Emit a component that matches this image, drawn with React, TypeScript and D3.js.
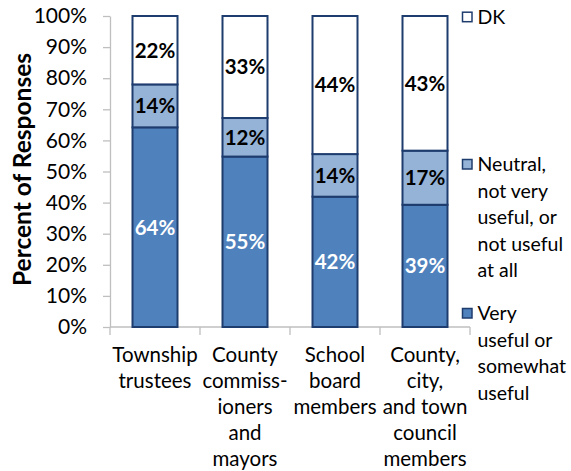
import React, { useEffect, useRef } from "react";
import * as d3 from "d3";

const categories = ["Township trustees", "County commissioners and mayors", "School board members", "County, city, and town council members"];
const categoryLines = [
  ["Township", "trustees"],
  ["County", "commiss-", "ioners", "and", "mayors"],
  ["School", "board", "members"],
  ["County,", "city,", "and town", "council", "members"],
];
const seriesKeys = ["very", "neutral", "dk"];
const seriesNames = ["Very useful or somewhat useful", "Neutral, not very useful, or not useful at all", "DK"];
const legendLines = [
  ["DK"],
  ["Neutral,", "not very", "useful, or", "not useful", "at all"],
  ["Very", "useful or", "somewhat", "useful"],
];
const veryUseful = [64.2, 54.8, 41.9, 39.3];
const neutral = [13.8, 12.4, 13.7, 17.4];
const dk = [22.0, 32.8, 44.4, 43.3];
const yTicks = [0, 10, 20, 30, 40, 50, 60, 70, 80, 90, 100];

const W = 571;
const H = 471;
const FONT = "Lato, 'Open Sans', sans-serif";
const fills = ["#4f81bd", "#95b3d7", "#ffffff"];
const labelColors = ["#ffffff", "#000000", "#000000"];
const stroke = "#1f3c6e";
const axisColor = "#bfbfbf";

export default function App() {
  const ref = useRef<SVGSVGElement | null>(null);

  useEffect(() => {
    const svg = d3.select(ref.current);
    svg.selectAll("*").remove();

    const left = 110, right = 470, top = 16, bottom = 327;
    const x = d3.scaleBand<string>().domain(categories).range([left, right]).paddingInner(0.5).paddingOuter(0.25);
    const y = d3.scaleLinear().domain([0, 100]).range([bottom, top]);

    const rows = categories.map((c, i) => ({ cat: c, very: veryUseful[i], neutral: neutral[i], dk: dk[i] }));
    const stacked = d3.stack<any>().keys(seriesKeys)(rows);

    // Y axis
    const yAxis = d3.axisLeft(y).tickValues(yTicks).tickFormat((d: any) => `${d}%`).tickSizeInner(7).tickSizeOuter(0).tickPadding(16);
    const yg = svg.append("g").attr("transform", `translate(${left},0)`).call(yAxis as any);
    yg.select(".domain").attr("stroke", axisColor).attr("stroke-width", 1.3);
    yg.selectAll(".tick line").attr("stroke", axisColor).attr("stroke-width", 1.3);
    yg.selectAll(".tick text").attr("font-family", FONT).attr("font-size", 21).attr("fill", "#000");

    // X axis line and boundary ticks
    const xg = svg.append("g");
    xg.append("line").attr("x1", left).attr("x2", right).attr("y1", bottom).attr("y2", bottom).attr("stroke", axisColor).attr("stroke-width", 1.3);
    d3.range(categories.length + 1).forEach((i) => {
      const bx = x.range()[0] + i * x.step();
      xg.append("line").attr("x1", bx).attr("x2", bx).attr("y1", bottom).attr("y2", bottom + 8).attr("stroke", axisColor).attr("stroke-width", 1.3);
    });

    // Bars
    stacked.forEach((s, si) => {
      const g = svg.append("g");
      s.forEach((d: any) => {
        const bx = x(d.data.cat)!;
        g.append("rect")
          .attr("x", bx)
          .attr("y", y(d[1]))
          .attr("width", x.bandwidth())
          .attr("height", y(d[0]) - y(d[1]))
          .attr("fill", fills[si])
          .attr("stroke", stroke)
          .attr("stroke-width", 2);
      });
      s.forEach((d: any) => {
        const bx = x(d.data.cat)!;
        g.append("text")
          .attr("x", bx + x.bandwidth() / 2)
          .attr("y", (y(d[0]) + y(d[1])) / 2)
          .attr("dy", "0.36em")
          .attr("text-anchor", "middle")
          .attr("font-family", FONT)
          .attr("font-weight", "bold")
          .attr("font-size", 20.5)
          .attr("fill", labelColors[si])
          .text(`${Math.round(d[1] - d[0])}%`);
      });
    });

    // X labels
    categories.forEach((c, i) => {
      const cx = x(c)! + x.bandwidth() / 2;
      const t = svg.append("text").attr("text-anchor", "middle").attr("font-family", FONT).attr("font-size", 20.5).attr("fill", "#000");
      categoryLines[i].forEach((ln, li) => {
        t.append("tspan").attr("x", cx).attr("y", 355 + li * 25.8).attr("dy", "0.36em").text(ln);
      });
    });

    // Y title
    svg.append("text")
      .attr("transform", `translate(31,${(top + bottom) / 2 - 2}) rotate(-90)`)
      .attr("text-anchor", "middle")
      .attr("font-family", FONT)
      .attr("font-weight", "bold")
      .attr("font-size", 24.5)
      .attr("fill", "#000")
      .text("Percent of Responses");

    // Legend (DK top, neutral, very)
    const legendY = [16.7, 164, 313];
    const legendFillIdx = [2, 1, 0];
    legendLines.forEach((lines, li) => {
      const ly = legendY[li];
      svg.append("rect")
        .attr("x", 462.5).attr("y", ly - 4.5).attr("width", 9.5).attr("height", 9.5)
        .attr("fill", fills[legendFillIdx[li]]).attr("stroke", stroke).attr("stroke-width", 1.5)
        .append("title").text(seriesNames[legendFillIdx[li]]);
      const t = svg.append("text").attr("font-family", FONT).attr("font-size", 19.5).attr("fill", "#000");
      lines.forEach((ln, k) => {
        t.append("tspan").attr("x", 477.5).attr("y", ly + k * 26.5).attr("dy", "0.36em").text(ln);
      });
    });
  }, []);

  return (
    <>
      <style>{`body{margin:0;background:#fff;}`}</style>
      <svg ref={ref} width={W} height={H} style={{ display: "block" }} />
    </>
  );
}
